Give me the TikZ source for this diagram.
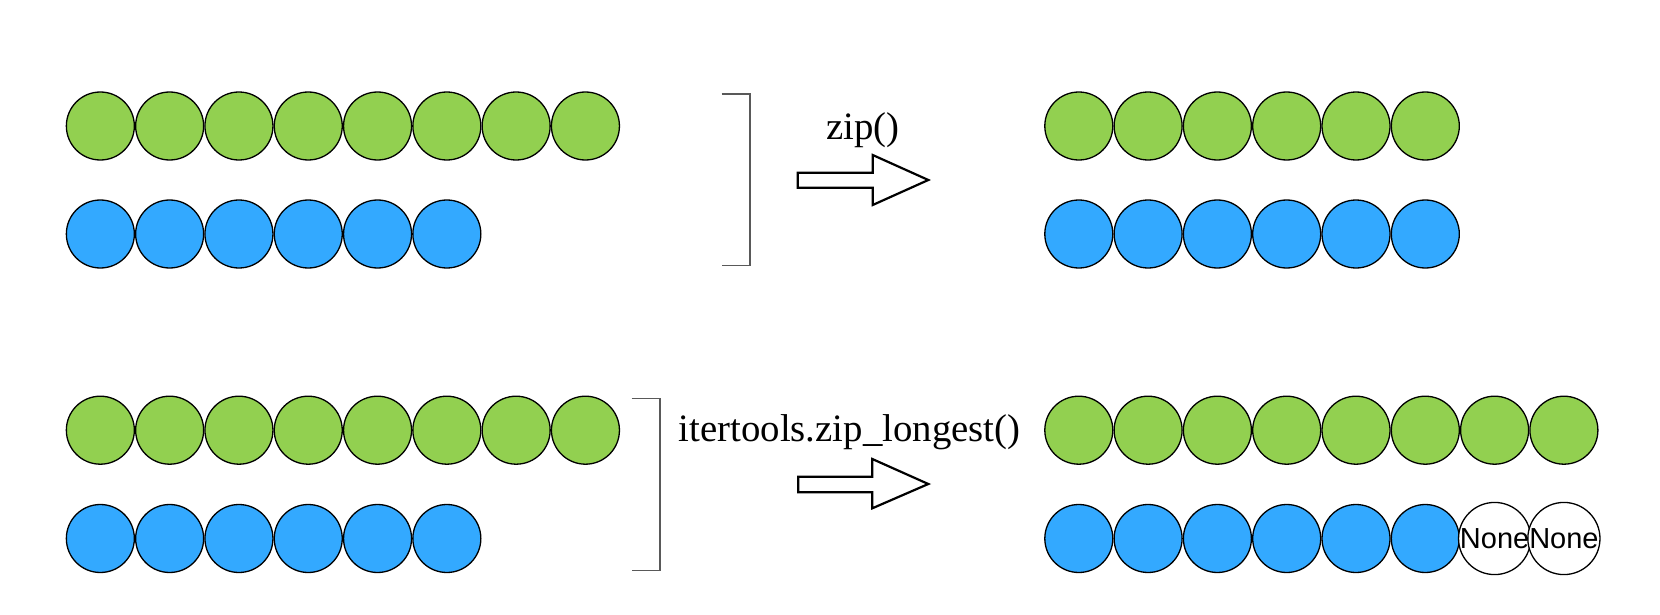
\documentclass[tikz,border=0pt]{standalone}
\usepackage{fontspec}
\setmainfont{Liberation Serif}
\newfontfamily\nonefont{Liberation Sans}
\definecolor{cgreen}{HTML}{92D050}
\definecolor{cblue}{HTML}{33A9FF}
\definecolor{bracketgray}{HTML}{595959}
\begin{document}
\begin{tikzpicture}[x=1pt,y=-1pt,
  ball/.style={circle,draw=black,line width=1.3pt,minimum size=68pt,inner sep=0pt},
  gball/.style={ball,fill=cgreen},
  bball/.style={ball,fill=cblue},
  nball/.style={ball,fill=white,font=\nonefont\fontsize{29}{31}\selectfont},
  bracketline/.style={draw=bracketgray,line width=1.4pt},
  blockarrow/.style={draw=black,fill=white,line width=2.2pt,line join=miter},
  label/.style={font=\fontsize{38.8}{40}\selectfont,inner sep=0pt,anchor=base}]
\useasboundingbox (0,0) rectangle (1660,615);
% top-left rows
\foreach \i in {1,...,8} \node[gball] (tlg\i) at ({100.35+69.3*(\i-1)},126) {};
\foreach \i in {1,...,6} \node[bball] (tlb\i) at ({100.35+69.3*(\i-1)},234) {};
% top-right rows
\foreach \i in {1,...,6} \node[gball] (trg\i) at ({1078.8+69.3*(\i-1)},126) {};
\foreach \i in {1,...,6} \node[bball] (trb\i) at ({1078.8+69.3*(\i-1)},234) {};
% bottom-left rows
\foreach \i in {1,...,8} \node[gball] (blg\i) at ({100.35+69.3*(\i-1)},430.2) {};
\foreach \i in {1,...,6} \node[bball] (blb\i) at ({100.35+69.3*(\i-1)},538.5) {};
% bottom-right rows
\foreach \i in {1,...,8} \node[gball] (brg\i) at ({1078.8+69.3*(\i-1)},430.2) {};
\foreach \i in {1,...,6} \node[bball] (brb\i) at ({1078.8+69.3*(\i-1)},538.5) {};
\node[nball] (brb7) at ({1078.8+69.3*6},538.5) {None};
\node[nball] (brb8) at ({1078.8+69.3*7},538.5) {None};
% brackets
\draw[bracketline] (721.7,94) -- (750,94) -- (750,265.7) -- (721.7,265.7);
\draw[bracketline] (631.7,398.3) -- (660,398.3) -- (660,570.7) -- (631.7,570.7);
% arrows
\draw[blockarrow] (797.7,172.7) -- (872.7,172.7) -- (872.7,155) -- (928.3,180) -- (872.7,205) -- (872.7,187.7) -- (797.7,187.7) -- cycle;
\draw[blockarrow] (798.3,476.7) -- (872.3,476.7) -- (872.3,459) -- (928.3,484) -- (872.3,508.3) -- (872.3,492.3) -- (798.3,492.3) -- cycle;
% labels
\node[label] (ziplabel) at (863,140) {zip()};
\node[label] (longestlabel) at (849.5,441.7) {itertools.zip\_longest()};
\end{tikzpicture}
\end{document}
